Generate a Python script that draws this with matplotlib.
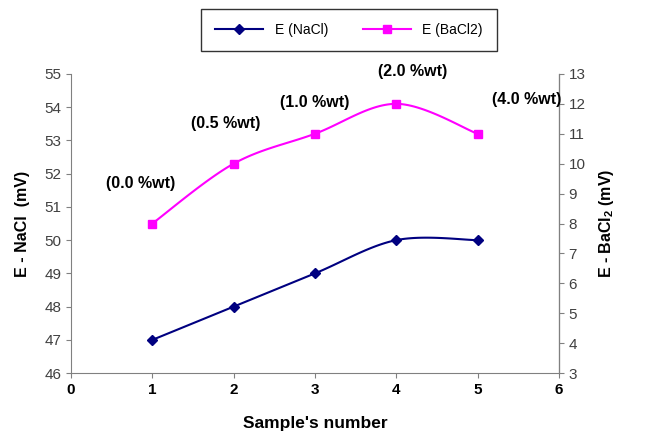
import numpy as np
import matplotlib
matplotlib.use('Agg')
from matplotlib import pyplot as plt

plt.rcParams['font.family'] = ['Liberation Sans', 'DejaVu Sans']
plt.rcParams['mathtext.fontset'] = 'custom'
plt.rcParams['mathtext.bf'] = 'Liberation Sans:bold'

samples = [1, 2, 3, 4, 5]
e_nacl = [47, 48, 49, 50, 50]
e_bacl2 = [8, 10, 11, 12, 11]
conc_labels = ['(0.0 %wt)', '(0.5 %wt)', '(1.0 %wt)', '(2.0 %wt)', '(4.0 %wt)']


def smooth(x, y, n=30):
    # catmull-rom style smoothing like excel's "smoothed line"
    x = np.asarray(x, float); y = np.asarray(y, float)
    px = np.concatenate([[x[0]], x, [x[-1]]])
    py = np.concatenate([[y[0]], y, [y[-1]]])
    xs, ys = [], []
    for i in range(1, len(px) - 2):
        p0, p1, p2, p3 = [np.array([px[j], py[j]]) for j in (i-1, i, i+1, i+2)]
        c1 = p1 + (p2 - p0) / 6
        c2 = p2 - (p3 - p1) / 6
        t = np.linspace(0, 1, n)[:, None]
        b = (1-t)**3*p1 + 3*(1-t)**2*t*c1 + 3*(1-t)*t**2*c2 + t**3*p2
        xs.extend(b[:, 0]); ys.extend(b[:, 1])
    return xs, ys


fig = plt.figure(figsize=(6.46, 4.4), dpi=100)
ax = fig.add_axes([0.110, 0.152, 0.755, 0.680])
ax2 = ax.twinx()

sx, sy = smooth(samples, e_nacl)
ax.plot(sx, sy, color='#000080', lw=1.5)
ax.plot(samples, e_nacl, 'D', color='#000080', ms=5, ls='none')
l1, = ax.plot([], [], '-D', color='#000080', ms=5, lw=1.5, label='E (NaCl)')

sx, sy = smooth(samples, e_bacl2)
ax2.plot(sx, sy, color='#FF00FF', lw=1.5)
ax2.plot(samples, e_bacl2, 's', color='#FF00FF', ms=6, ls='none')
l2, = ax2.plot([], [], '-s', color='#FF00FF', ms=6, lw=1.5, label='E (BaCl2)')

offs = [(-0.15, 1.35), (-0.1, 1.35), (0.0, 1.03), (0.2, 1.07), (0.6, 1.13)]
for x, y, lab, (dx, dy) in zip(samples, e_bacl2, conc_labels, offs):
    ax2.text(x + dx, y + dy, lab, ha='center', va='center', fontsize=11.5,
             fontweight='bold', clip_on=False)

ax.set_xlim(0, 6)
ax.set_ylim(46, 55)
ax2.set_ylim(3, 13)
ax.set_xticks(range(0, 7))
ax.set_yticks(range(46, 56))
ax2.set_yticks(range(3, 14))

ax.spines['top'].set_visible(False)
ax2.spines['top'].set_visible(False)
for s in ['left', 'bottom']:
    ax.spines[s].set_color('#808080')
ax2.spines['right'].set_color('#808080')
ax2.spines['left'].set_visible(False)
ax2.spines['bottom'].set_visible(False)

ax.tick_params(axis='y', colors='#808080', labelcolor='#404040', labelsize=11)
ax2.tick_params(axis='y', colors='#808080', labelcolor='#404040', labelsize=11)
ax.tick_params(axis='x', colors='#808080', labelcolor='black', labelsize=11)
for t in ax.get_xticklabels():
    t.set_fontweight('bold')

ax.set_xlabel("Sample's number", fontsize=12.5, fontweight='bold', labelpad=14)
ax.set_ylabel('E - NaCl  (mV)', fontsize=11.5, fontweight='bold', labelpad=10)
ax2.set_ylabel(r'E - BaCl$_\mathbf{2}$ (mV)', fontsize=11.5, fontweight='bold', labelpad=8)

fig.legend(handles=[l1, l2], loc='center', bbox_to_anchor=(0.540, 0.932),
           ncol=2, fontsize=10, frameon=True, fancybox=False, edgecolor='black',
           borderpad=1.0, handlelength=3.5, columnspacing=2.5)

fig.savefig('out.png', dpi=100)
